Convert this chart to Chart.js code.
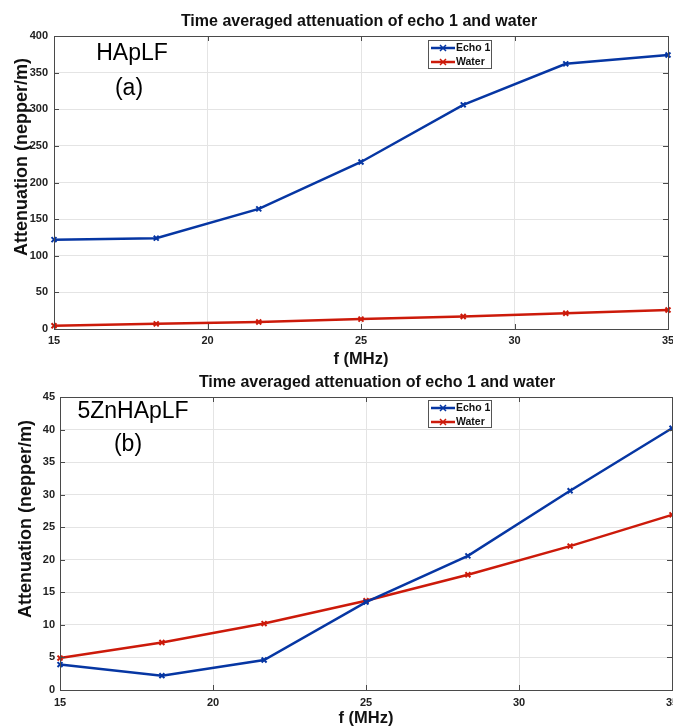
<!DOCTYPE html>
<html>
<head>
<meta charset="utf-8">
<script src="https://cdn.jsdelivr.net/npm/chart.js@4.4.1/dist/chart.umd.min.js"></script>
<style>
  html, body { margin: 0; padding: 0; background: #fff; }
  body { width: 673px; height: 726px; overflow: hidden; position: relative; }
  .plot { position: absolute; left: 0; }
  #topWrap { top: 0; width: 700px; height: 372px; }
  #bottomWrap { top: 372px; width: 700px; height: 358px; }
</style>
</head>
<body>
<div class="plot" id="topWrap"><canvas id="chartHApLF" width="700" height="372"></canvas></div>
<div class="plot" id="bottomWrap"><canvas id="chartZn" width="700" height="358"></canvas></div>

<script>
// frequencies (MHz) shared by both measurements
const freqMHz = [15, 18.33, 21.67, 25, 28.33, 31.67, 35];

// HApLF sample, attenuation in nepper/m
const echoHApLF = [122, 124, 164, 228, 306, 362, 374];
const waterHApLF = [4.5, 7, 9.5, 13.5, 17, 21.5, 26];

// 5ZnHApLF sample, attenuation in nepper/m
const echoZn = [3.9, 2.2, 4.6, 13.5, 20.6, 30.6, 40.2];
const waterZn = [4.9, 7.3, 10.2, 13.7, 17.7, 22.1, 26.9];

const seriesLabels = ["Echo 1", "Water"];
const chartTitle = "Time averaged attenuation of echo 1 and water";
const xTitle = "f (MHz)";
const yTitle = "Attenuation (nepper/m)";

const BLUE = "#0636a3";
const RED = "#cc1a0a";
const FONT = "'Liberation Sans', Arial, Helvetica, sans-serif";

const toPoints = (ys) => ys.map((y, i) => ({ x: freqMHz[i], y: y }));

// title, axes box, inward ticks, legend and the sample labels
const decorations = {
  id: "decorations",
  afterDraw(chart, args, opts) {
    const ctx = chart.ctx;
    const a = chart.chartArea;
    const sx = chart.scales.x, sy = chart.scales.y;
    ctx.save();

    // title above the axes
    ctx.fillStyle = "#111";
    ctx.font = "bold 16px " + FONT;
    ctx.textAlign = "center";
    ctx.textBaseline = "middle";
    ctx.fillText(chartTitle, opts.title.x, opts.title.y);

    // box
    ctx.strokeStyle = "#4a4a4a";
    ctx.lineWidth = 1;
    ctx.strokeRect(Math.round(a.left) + 0.5, Math.round(a.top) + 0.5,
      Math.round(a.right - a.left), Math.round(a.bottom - a.top));

    // inward ticks
    ctx.beginPath();
    sx.ticks.forEach(t => {
      const px = Math.round(sx.getPixelForValue(t.value)) + 0.5;
      ctx.moveTo(px, a.bottom); ctx.lineTo(px, a.bottom - 5);
      ctx.moveTo(px, a.top); ctx.lineTo(px, a.top + 5);
    });
    sy.ticks.forEach(t => {
      const py = Math.round(sy.getPixelForValue(t.value)) + 0.5;
      ctx.moveTo(a.left, py); ctx.lineTo(a.left + 5, py);
      ctx.moveTo(a.right, py); ctx.lineTo(a.right - 5, py);
    });
    ctx.stroke();

    // legend
    const lg = opts.legend;
    ctx.fillStyle = "#fff";
    ctx.fillRect(lg.x, lg.y, lg.w, lg.h);
    ctx.strokeStyle = "#555";
    ctx.strokeRect(lg.x + 0.5, lg.y + 0.5, lg.w, lg.h);
    chart.data.datasets.forEach((ds, i) => {
      const cy = lg.y + 8 + i * 14;
      ctx.strokeStyle = ds.borderColor;
      ctx.lineWidth = 2.5;
      ctx.beginPath();
      ctx.moveTo(lg.x + 3, cy); ctx.lineTo(lg.x + 27, cy);
      ctx.stroke();
      ctx.lineWidth = 1.5;
      ctx.beginPath();
      ctx.moveTo(lg.x + 12, cy - 3); ctx.lineTo(lg.x + 18, cy + 3);
      ctx.moveTo(lg.x + 18, cy - 3); ctx.lineTo(lg.x + 12, cy + 3);
      ctx.stroke();
      ctx.fillStyle = "#111";
      ctx.font = "bold 10.5px " + FONT;
      ctx.textAlign = "left";
      ctx.textBaseline = "middle";
      ctx.fillText(ds.label, lg.x + 28, cy + 0.5);
    });

    // sample name and panel letter
    ctx.fillStyle = "#000";
    ctx.font = "23px " + FONT;
    ctx.textAlign = "center";
    ctx.textBaseline = "middle";
    opts.notes.forEach(n => ctx.fillText(n.text, n.x, n.y));

    // y axis title
    ctx.font = "bold 18px " + FONT;
    ctx.fillStyle = "#111";
    ctx.translate(opts.yTitle.x, opts.yTitle.y);
    ctx.rotate(-Math.PI / 2);
    ctx.fillText(yTitle, 0, 0);

    ctx.restore();
  }
};

function makeChart(canvasId, echo, water, setup) {
  const ctx = document.getElementById(canvasId);
  return new Chart(ctx, {
    type: "line",
    data: {
      datasets: [
        { label: seriesLabels[0], data: toPoints(echo), borderColor: BLUE, backgroundColor: BLUE },
        { label: seriesLabels[1], data: toPoints(water), borderColor: RED, backgroundColor: RED }
      ]
    },
    options: {
      responsive: false,
      animation: false,
      clip: 8,
      elements: {
        line: { borderWidth: 2.5, tension: 0 },
        point: { pointStyle: "crossRot", radius: 3.5, borderWidth: 2 }
      },
      layout: { padding: { left: 0, right: setup.padRight, top: setup.padTop, bottom: 0 } },
      plugins: {
        legend: { display: false },
        tooltip: { enabled: false },
        title: { display: false },
        decorations: setup.deco
      },
      scales: {
        x: {
          type: "linear",
          min: 15, max: 35,
          afterFit: (s) => { s.height = setup.xHeight; },
          grid: { color: "#e4e4e4", drawTicks: false },
          border: { color: "#4a4a4a" },
          ticks: {
            stepSize: 5, padding: setup.xTickPad, color: "#222",
            font: { family: FONT, size: 11, weight: "bold" }
          },
          title: {
            display: true, text: xTitle, color: "#111",
            font: { family: FONT, size: 16.5, weight: "bold" },
            padding: { top: 0, bottom: setup.xTitlePad }
          }
        },
        y: {
          min: 0, max: setup.yMax,
          afterFit: (s) => { s.width = setup.yWidth; },
          grid: { color: "#e4e4e4", drawTicks: false },
          border: { color: "#4a4a4a" },
          ticks: {
            stepSize: setup.yStep, padding: setup.yTickPad, color: "#222",
            font: { family: FONT, size: 11, weight: "bold" }
          }
        }
      }
    },
    plugins: [decorations]
  });
}

makeChart("chartHApLF", echoHApLF, waterHApLF, {
  padRight: 32, padTop: 36, yMax: 400, yStep: 50, yWidth: 54, yTickPad: 6,
  xHeight: 43, xTickPad: 5, xTitlePad: 3,
  deco: {
    title: { x: 359, y: 22 },
    legend: { x: 428, y: 40, w: 63, h: 28 },
    notes: [{ text: "HApLF", x: 132, y: 54 }, { text: "(a)", x: 129, y: 89 }],
    yTitle: { x: 22, y: 157 }
  }
});

makeChart("chartZn", echoZn, waterZn, {
  padRight: 28, padTop: 25, yMax: 45, yStep: 5, yWidth: 60, yTickPad: 5,
  xHeight: 40, xTickPad: 6, xTitlePad: 2,
  deco: {
    title: { x: 377, y: 11 },
    legend: { x: 428, y: 28, w: 63, h: 27 },
    notes: [{ text: "5ZnHApLF", x: 133, y: 40 }, { text: "(b)", x: 128, y: 73 }],
    yTitle: { x: 26, y: 147 }
  }
});
</script>
</body>
</html>
